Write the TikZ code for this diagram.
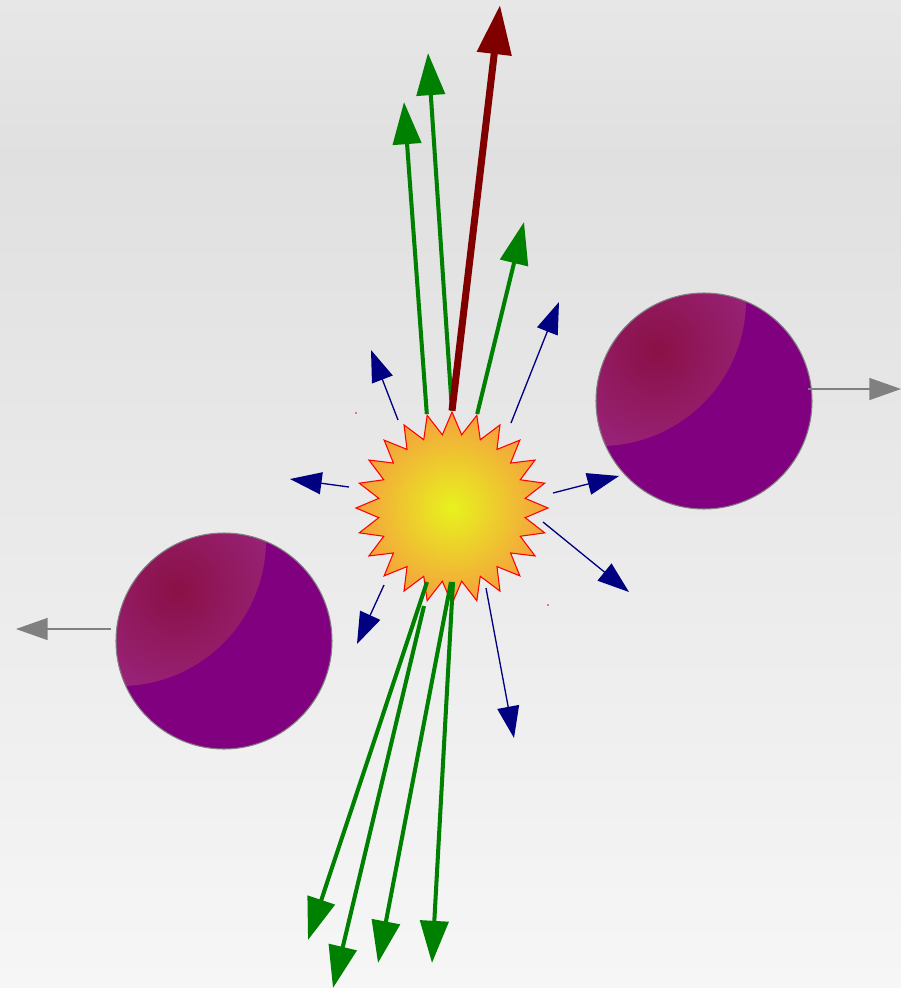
\documentclass[tikz,border=0pt]{standalone}
\usetikzlibrary{arrows.meta,shapes.geometric}
\definecolor{bgtop}{HTML}{E7E7E7}
\definecolor{bgmid}{HTML}{E0E0E0}
\definecolor{bgbot}{HTML}{F6F6F6}
\definecolor{burstin}{HTML}{E8F21E}
\definecolor{burstout}{HTML}{F4A03E}
\definecolor{ballbody}{HTML}{800080}
\definecolor{ballred}{HTML}{8A1046}
\definecolor{ballpink}{HTML}{A534A5}
% the path is mapped onto 25bp..75bp of the shading
\pgfdeclareverticalshading{bgfade}{100bp}{color(0bp)=(bgbot); color(25bp)=(bgbot); color(67bp)=(bgmid); color(75bp)=(bgtop); color(100bp)=(bgtop)}
\begin{document}
\begin{tikzpicture}[x = .02cm, y = -.02cm,
		jet/.style = {line width = 2.3pt, green!50!black, -{Triangle[length = 24pt, width = 16pt]}},
		lead/.style = {line width = 4pt, red!50!black, -{Triangle[length = 28pt, width = 19pt]}},
		soft/.style = {line width = .75pt, blue!50!black, -{Triangle[length = 18pt, width = 12.5pt]}},
		drift/.style = {line width = .85pt, gray, -{Triangle[length = 18pt, width = 12.5pt]}}]
	\useasboundingbox (0, 0) rectangle (901, 988);
	\shade[shading = bgfade] (0, 0) rectangle (901, 988);
	% the two nuclei, lit from the upper left
	\def\rn{108}
	\foreach \cx/\cy in {704/401, 224/641} {
		\begin{scope}
			\clip (\cx, \cy) circle (\rn);
			\fill[ballbody] (\cx, \cy) circle (\rn);
			\clip (\cx - 104, \cy - 101) circle (146);
			\shade[inner color = ballred, outer color = ballpink] (\cx - 47, \cy - 51) circle (200);
		\end{scope}
		\draw[gray, line width = .6pt] (\cx, \cy) circle (\rn);
	}
	\draw[drift] (808, 389)--(901, 389);
	\draw[drift] (111, 629)--(16, 629);
	% collision point
	\node[star, star points = 24, star point ratio = 1.3, minimum size = 3.84cm, inner sep = 0pt,
		draw = red, line width = .6pt, inner color = burstin, outer color = burstout] (burst) at (452, 508) {};
	\fill[red] (356, 413) circle (.8) (548, 605) circle (.8);
	% jets
	\draw[jet] (burst.outer point 2)--(404, 102);
	\draw[jet] (burst.outer point 1)--(428, 53);
	\draw[jet] (burst.outer point 24)--(524, 222);
	\draw[lead] (burst.outer point 1)--(500, 5);
	\foreach \a/\b/\c/\d in {427/582/308/940, 424/606/333/988, 451/582/378/963, 453/582/432/963}
	\draw[jet] (\a, \b)--(\c, \d);
	% soft particles
	\foreach \a/\b/\c/\d in {398/420/371/350, 511/423/559/302, 349/487/290/479, 553/493/619/476,
		543/522/629/592, 384/585/357/644, 486/588/514/738}
	\draw[soft] (\a, \b)--(\c, \d);
\end{tikzpicture}
\end{document}
